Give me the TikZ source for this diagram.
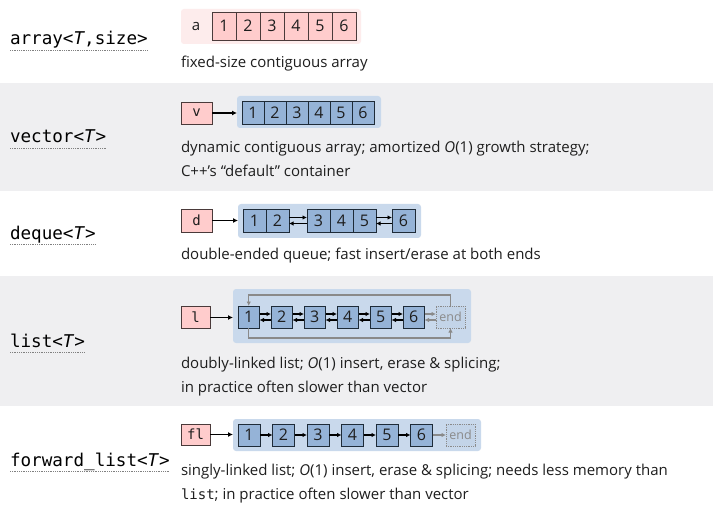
\documentclass[tikz,border=0pt]{standalone}
\usepackage{fontspec}
\setmainfont{Open Sans}
\setmonofont{DejaVu Sans Mono}
\usetikzlibrary{arrows.meta}
\definecolor{band}{HTML}{EFEFF1}
\definecolor{pinkbg}{HTML}{FDECEC}
\definecolor{pinkcell}{HTML}{FFCCCC}
\definecolor{pinkedge}{HTML}{4A3A3A}
\definecolor{bluebg}{HTML}{C9D9EC}
\definecolor{bluecell}{HTML}{95B3D7}
\definecolor{blueedge}{HTML}{1E2B38}
\definecolor{endfill}{HTML}{C3D4E8}
\definecolor{grayline}{HTML}{8A8A8A}
\definecolor{txt}{HTML}{1E1E1E}
\begin{document}
\begin{tikzpicture}[x=1pt,y=-1pt,
  every node/.style={inner sep=0pt, outer sep=0pt},
  lbl/.style={anchor=base west, font=\fontsize{17.6}{20}\selectfont\ttfamily, text=black},
  ul/.style={draw=gray, densely dotted, line width=0.8pt},
  desc/.style={anchor=base west, font=\fontsize{15}{24}\selectfont, text=txt},
  pbg/.style={fill=pinkbg, rounded corners=3pt, anchor=north west},
  bbg/.style={fill=bluebg, rounded corners=3pt, anchor=north west},
  pcell/.style={draw=pinkedge, fill=pinkcell, line width=0.8pt, anchor=north west,
    font=\fontsize{16}{18}\selectfont, text=txt},
  ptr/.style={draw=pinkedge, fill=pinkcell, line width=0.8pt, anchor=north west,
    font=\fontsize{14}{16}\selectfont\ttfamily, text=txt},
  bcell/.style={draw=blueedge, fill=bluecell, line width=0.8pt, anchor=north west,
    font=\fontsize{16}{18}\selectfont, text=txt},
  endcell/.style={draw=grayline, densely dotted, fill=endfill, line width=0.8pt, anchor=north west,
    font=\fontsize{12.5}{14}\selectfont, text=grayline},
  arr/.style={draw=black, line width=1.3pt, -{Latex[length=5pt,width=5pt]}},
  sarr/.style={draw=black, line width=1.2pt, -{Latex[length=4.5pt,width=4.5pt]}},
  garr/.style={draw=grayline, line width=1.1pt, -{Latex[length=4.5pt,width=4.5pt]}}
]
\useasboundingbox (0,0) rectangle (713,508);
\fill[white] (0,0) rectangle (713,508);
\fill[band] (0,83) rectangle (713,191);
\fill[band] (0,276) rectangle (713,406);

% ---- labels ----
\node[lbl] (lblA) at (10,45) {array<\textit{T},size>};
\node[lbl] (lblV) at (10,143) {vector<\textit{T}>};
\node[lbl] (lblD) at (10,239.5) {deque<\textit{T}>};
\node[lbl] (lblL) at (10,347.5) {list<\textit{T}>};
\node[lbl] (lblF) at (10,466.5) {forward\_list<\textit{T}>};
\foreach \n in {lblA,lblV,lblD,lblL,lblF}
  \draw[ul] ([yshift=-5pt]\n.base west) -- ([yshift=-5pt]\n.base east);

% ---- array ----
\node[pbg, minimum width=180pt, minimum height=35pt] (abg) at (181,9) {};
\node[font=\fontsize{15}{16}\selectfont, text=txt] (aname) at (196,26.5) {a};
\foreach \i in {1,...,6}
  \node[pcell, minimum width=24pt, minimum height=28pt] (a\i) at ({212+24*(\i-1)},12) {\i};
\node[desc] (descA) at (181,68) {fixed-size contiguous array};

% ---- vector ----
\node[ptr, minimum width=31pt, minimum height=22pt] (vp) at (181,102) {v};
\node[bbg, minimum width=144pt, minimum height=32pt] (vbg) at (237,96) {};
\foreach \i in {1,...,6}
  \node[bcell, minimum width=22pt, minimum height=23pt] (v\i) at ({242+22*(\i-1)},101) {\i};
\draw[arr] (vp.east) -- (vp.east -| vbg.west);
\node[desc] (descV1) at (181,153) {dynamic contiguous array; amortized \textit{O}(1) growth strategy;};
\node[desc] (descV2) at (181,177) {C++'s “default” container};

% ---- deque ----
\node[ptr, minimum width=31pt, minimum height=23pt] (dp) at (181,209) {d};
\node[bbg, minimum width=183pt, minimum height=34pt] (dbg) at (238,204) {};
\node[bcell, minimum width=23pt, minimum height=23pt] (d1) at (243,209) {1};
\node[bcell, minimum width=23pt, minimum height=23pt] (d2) at (266,209) {2};
\node[bcell, minimum width=23pt, minimum height=23pt] (d3) at (307,209) {3};
\node[bcell, minimum width=23pt, minimum height=23pt] (d4) at (330,209) {4};
\node[bcell, minimum width=23pt, minimum height=23pt] (d5) at (353,209) {5};
\node[bcell, minimum width=23pt, minimum height=23pt] (d6) at (392,209) {6};
\draw[arr] (dp.east) -- (dp.east -| dbg.west);
\draw[sarr] ([yshift=3pt]d2.east) -- ([yshift=3pt]d3.west);
\draw[sarr] ([yshift=-3pt]d3.west) -- ([yshift=-3pt]d2.east);
\draw[sarr] ([yshift=3pt]d5.east) -- ([yshift=3pt]d6.west);
\draw[sarr] ([yshift=-3pt]d6.west) -- ([yshift=-3pt]d5.east);
\node[desc] (descD) at (181,260) {double-ended queue; fast insert/erase at both ends};

% ---- list ----
\node[ptr, minimum width=29pt, minimum height=22pt] (lp) at (181,306.5) {l};
\node[bbg, minimum width=238pt, minimum height=54pt] (lbg) at (233,289) {};
\foreach \i in {1,...,6}
  \node[bcell, minimum width=21.5pt, minimum height=22pt] (l\i) at ({238+33*(\i-1)},306) {\i};
\node[endcell, minimum width=29pt, minimum height=22pt] (lend) at (436,306) {end};
\draw[arr] (lp.east) -- (lp.east -| lbg.west);
\foreach \i [evaluate=\i as \j using int(\i+1)] in {1,...,5} {
  \draw[sarr] ([yshift=3pt]l\i.east) -- ([yshift=3pt]l\j.west);
  \draw[sarr] ([yshift=-3pt]l\j.west) -- ([yshift=-3pt]l\i.east);
}
\draw[garr] ([yshift=3pt]l6.east) -- ([yshift=3pt]lend.west);
\draw[garr] ([yshift=-3pt]lend.west) -- ([yshift=-3pt]l6.east);
\coordinate (topL) at (0,295);
\coordinate (botL) at (0,338);
\draw[garr] (lend.north) -- (lend.north |- topL) -| (l1.north);
\draw[garr] (l1.south) -- (l1.south |- botL) -| (lend.south);
\node[desc] (descL1) at (181,368) {doubly-linked list; \textit{O}(1) insert, erase \& splicing;};
\node[desc] (descL2) at (181,392) {in practice often slower than vector};

% ---- forward_list ----
\node[ptr, minimum width=29pt, minimum height=21pt] (fp) at (181,424) {fl};
\node[bbg, minimum width=248pt, minimum height=32pt] (fbg) at (233,419) {};
\foreach \i in {1,...,6}
  \node[bcell, minimum width=22pt, minimum height=22pt] (f\i) at ({238+34.5*(\i-1)},424) {\i};
\node[endcell, minimum width=29pt, minimum height=22pt] (fend) at (446,424) {end};
\draw[arr] (fp.east) -- (fp.east -| fbg.west);
\foreach \i [evaluate=\i as \j using int(\i+1)] in {1,...,5}
  \draw[sarr] (f\i.east) -- (f\j.west);
\draw[garr] (f6.east) -- (fend.west);
\node[desc] (descF1) at (181,475) {singly-linked list; \textit{O}(1) insert, erase \& splicing; needs less memory than};
\node[desc] (descF2) at (181,499) {{\fontsize{14}{24}\selectfont\ttfamily list}; in practice often slower than vector};
\end{tikzpicture}
\end{document}
